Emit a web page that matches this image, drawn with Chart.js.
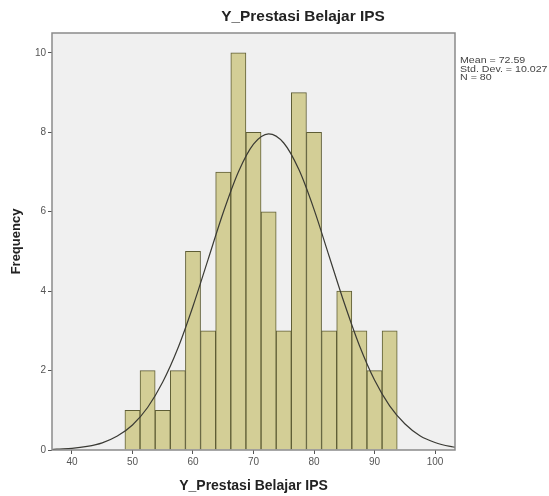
<!DOCTYPE html>
<html>
<head>
<meta charset="utf-8">
<script src="https://cdn.jsdelivr.net/npm/chart.js@4/dist/chart.umd.min.js"></script>
<style>
  html, body { margin: 0; padding: 0; background: #fff; }
  #wrap { width: 549px; height: 496px; }
</style>
</head>
<body>
<div id="wrap"><canvas id="hist" width="549" height="496"></canvas></div>
<script>
// histogram bins (center of each 2.5-wide bin) and counts
const binCenters = [50, 52.5, 55, 57.5, 60, 62.5, 65, 67.5, 70, 72.5, 75, 77.5, 80, 82.5, 85, 87.5, 90, 92.5];
const counts     = [1, 2, 1, 2, 5, 3, 7, 10, 8, 6, 3, 9, 8, 3, 4, 3, 2, 3];

// normal curve
const curveX = [36.7, 37.5, 40, 42.5, 45, 47.5, 50, 52.5, 55, 57.5, 60, 62.5, 65, 67.5, 70, 72.5,
                75, 77.5, 80, 82.5, 85, 87.5, 90, 92.5, 95, 97.5, 100, 102.5, 103.3];
const curveY = [0.01, 0.02, 0.04, 0.09, 0.18, 0.35, 0.63, 1.07, 1.71, 2.56, 3.62, 4.80, 5.98, 7.00, 7.70, 7.96,
                7.73, 7.06, 6.06, 4.88, 3.70, 2.63, 1.76, 1.11, 0.66, 0.36, 0.19, 0.09, 0.07];

const xTicks = [40, 50, 60, 70, 80, 90, 100];
const yTicks = [0, 2, 4, 6, 8, 10];

const chartTitle = 'Y_Prestasi Belajar IPS';
const xTitle = 'Y_Prestasi Belajar IPS';
const yTitle = 'Frequency';
const statsLines = ['Mean = 72.59', 'Std. Dev. = 10.027', 'N = 80'];

const FONT = '"Liberation Sans", Arial, sans-serif';

// text a little wider than the font, like the original export
function wideText(ctx, s, x, y, sx) {
    ctx.save();
    ctx.translate(x, y);
    ctx.scale(sx, 1);
    ctx.fillText(s, 0, 0);
    ctx.restore();
}

// plot background, frame, title and stats box
const framePlugin = {
    id: 'frame',
    beforeDatasetsDraw(chart) {
        const a = chart.chartArea;
        const ctx = chart.ctx;
        ctx.save();
        ctx.fillStyle = '#f0f0f0';
        ctx.fillRect(a.left, a.top, a.right - a.left, a.bottom - a.top);
        ctx.restore();
    },
    afterDraw(chart) {
        const a = chart.chartArea;
        const ctx = chart.ctx;
        ctx.save();
        ctx.strokeStyle = '#8a8a8a';
        ctx.lineWidth = 1.5;
        ctx.strokeRect(a.left, a.top, a.right - a.left, a.bottom - a.top);

        ctx.fillStyle = '#222';
        ctx.font = 'bold 14px ' + FONT;
        ctx.textAlign = 'center';
        ctx.textBaseline = 'middle';
        wideText(ctx, chartTitle, 303, 17, 1.1);

        ctx.fillStyle = '#444';
        ctx.font = '8.5px ' + FONT;
        ctx.textAlign = 'left';
        statsLines.forEach((s, i) => wideText(ctx, s, a.right + 5, 61 + i * 8.5, 1.25));
        ctx.restore();
    }
};

new Chart(document.getElementById('hist'), {
    data: {
        datasets: [
            {
                type: 'line',
                data: curveX.map((x, i) => ({ x: x, y: curveY[i] })),
                borderColor: '#3a3a34',
                borderWidth: 1.2,
                pointRadius: 0,
                cubicInterpolationMode: 'monotone',
                fill: false,
                order: 0
            },
            {
                type: 'bar',
                data: binCenters.map((x, i) => ({ x: x, y: counts[i] })),
                backgroundColor: '#d3ce96',
                borderColor: '#5e5d35',
                borderWidth: 1,
                barPercentage: 1,
                categoryPercentage: 1,
                order: 1
            }
        ]
    },
    options: {
        responsive: false,
        animation: false,
        layout: { padding: { left: 0, right: 94, top: 33, bottom: 0 } },
        plugins: {
            legend: { display: false },
            tooltip: { enabled: false },
            title: { display: false }
        },
        scales: {
            x: {
                type: 'linear',
                min: 36.7,
                max: 103.3,
                offset: false,
                afterBuildTicks: s => { s.ticks = xTicks.map(v => ({ value: v })); },
                afterFit: s => { s.height = 46; },
                grid: { drawOnChartArea: false, offset: false, tickLength: 4, tickColor: '#555' },
                border: { display: false },
                ticks: { color: '#555', font: { family: FONT, size: 10 }, padding: 2, maxRotation: 0 },
                title: { display: true, text: xTitle, color: '#222', font: { family: FONT, size: 14, weight: 'bold' }, padding: { top: 0, bottom: 1 } }
            },
            y: {
                type: 'linear',
                min: 0,
                max: 10.5,
                afterBuildTicks: s => { s.ticks = yTicks.map(v => ({ value: v })); },
                afterFit: s => { s.width = 52; },
                grid: { drawOnChartArea: false, tickLength: 4, tickColor: '#555' },
                border: { display: false },
                ticks: { color: '#555', font: { family: FONT, size: 10 }, padding: 2 },
                title: { display: true, text: yTitle, color: '#222', font: { family: FONT, size: 13, weight: 'bold' }, padding: { top: 9, bottom: 0 } }
            }
        }
    },
    plugins: [framePlugin]
});
</script>
</body>
</html>
